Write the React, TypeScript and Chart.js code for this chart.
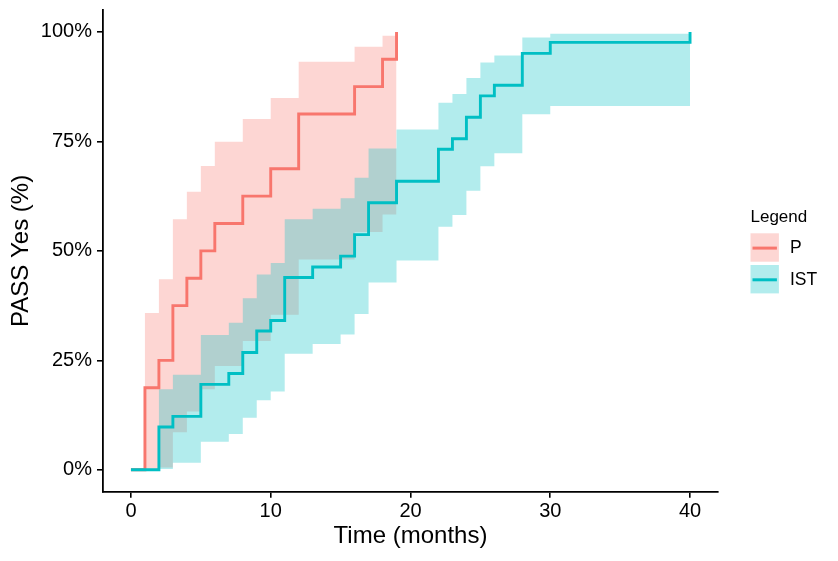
import React, { useEffect, useRef } from 'react';
import { Chart, registerables } from 'chart.js';

Chart.register(...registerables);

// ---- Data ----
const groups = ['P', 'IST'];
const legendTitle = 'Legend';

const pTimes = [0, 1, 2, 3, 4, 5, 6, 8, 10, 12, 16, 18, 19];
const pValues = [0, 18.75, 25, 37.5, 43.75, 50, 56.25, 62.5, 68.75, 81.25, 87.5, 93.75, 100];
const pUpper = [0, 35.8, 43.5, 57.2, 63.5, 69.4, 74.9, 80.1, 84.9, 93.2, 96.6, 99.1, null];
const pLower = [0, 0, 0.5, 8.6, 13.3, 18.4, 23.7, 29.4, 35.4, 48.0, 54.3, 58.3, null];

const istTimes = [0, 2, 3, 5, 7, 8, 9, 10, 11, 13, 15, 16, 17, 19, 22, 23, 24, 25, 26, 28, 30, 40];
const istValues = [0, 9.76, 12.2, 19.5, 22.0, 26.8, 31.7, 34.1, 43.9, 46.3, 48.8, 53.7, 61.0, 65.9, 73.2, 75.6, 80.5, 85.4, 87.8, 95.1, 97.6, 100];
const istUpper = [0, 18.4, 21.7, 30.8, 33.6, 39.2, 44.6, 47.2, 57.2, 59.6, 62.0, 66.7, 73.4, 77.7, 83.8, 85.8, 89.5, 93.0, 94.6, 98.7, 99.6, null];
const istLower = [0, 0.2, 1.6, 6.4, 8.2, 11.9, 15.9, 17.9, 26.5, 28.7, 30.9, 35.6, 42.8, 47.8, 55.5, 58.2, 63.7, 69.3, 72.3, 81.2, 83.1, null];

const xTicks = [0, 10, 20, 30, 40];
const xTickLabels = ['0', '10', '20', '30', '40'];
const yTicks = [0, 25, 50, 75, 100];
const yTickLabels = ['0%', '25%', '50%', '75%', '100%'];

const xTitle = 'Time (months)';
const yTitle = 'PASS Yes (%)';

// ---- Styles ----
const FONT = "'Liberation Sans', Arial, Helvetica, sans-serif";
const lineColors = ['#F8766D', '#00BFC4'];
const fillColors = ['rgba(248,118,109,0.3)', 'rgba(0,191,196,0.3)'];

const toPoints = (times: number[], vals: (number | null)[]) => {
  let last = 0;
  return times.map((t, i) => {
    const v = vals[i] == null ? last : (vals[i] as number);
    last = v;
    return { x: t, y: v };
  });
};

const legendPlugin = {
  id: 'customLegend',
  afterDraw(chart: any) {
    const ctx = chart.ctx as CanvasRenderingContext2D;
    const left = 750.5;
    const keySize = 28.4;
    const stride = 31.7;
    const top = 233.3;
    ctx.save();
    ctx.fillStyle = '#000';
    ctx.font = `17px ${FONT}`;
    ctx.textBaseline = 'alphabetic';
    ctx.textAlign = 'left';
    ctx.fillText(legendTitle, left, 221.7);
    groups.forEach((g, i) => {
      const y0 = top + i * stride;
      ctx.fillStyle = fillColors[i];
      ctx.fillRect(left, y0, keySize, keySize);
      ctx.strokeStyle = lineColors[i];
      ctx.lineWidth = 3;
      ctx.beginPath();
      ctx.moveTo(left + 2, y0 + keySize / 2 + 0.6);
      ctx.lineTo(left + keySize - 2, y0 + keySize / 2 + 0.6);
      ctx.stroke();
      ctx.fillStyle = '#000';
      ctx.font = `17.5px ${FONT}`;
      ctx.textBaseline = 'middle';
      ctx.fillText(g, 790, y0 + keySize / 2 + 1);
    });
    ctx.restore();
  },
};

export default function App() {
  const ref = useRef<HTMLCanvasElement | null>(null);

  useEffect(() => {
    if (!ref.current) return;
    const lineDs = (label: string, times: number[], vals: number[], color: string) => ({
      label,
      data: toPoints(times, vals),
      borderColor: color,
      backgroundColor: color,
      borderWidth: 2.9,
      pointRadius: 0,
      stepped: 'before' as const,
      fill: false,
    });
    const bandDs = (label: string, times: number[], vals: (number | null)[], fill: any, color: string) => ({
      label,
      data: toPoints(times, vals),
      borderColor: 'rgba(0,0,0,0)',
      backgroundColor: color,
      borderWidth: 0,
      pointRadius: 0,
      stepped: 'before' as const,
      fill,
    });

    const chart = new Chart(ref.current, {
      type: 'line',
      data: {
        datasets: [
          lineDs('IST', istTimes, istValues, lineColors[1]),
          lineDs('P', pTimes, pValues, lineColors[0]),
          bandDs('IST upper', istTimes, istUpper, '+1', fillColors[1]),
          bandDs('IST lower', istTimes, istLower, false, fillColors[1]),
          bandDs('P upper', pTimes, pUpper, '+1', fillColors[0]),
          bandDs('P lower', pTimes, pLower, false, fillColors[0]),
        ] as any,
      },
      options: {
        animation: false,
        responsive: false,
        maintainAspectRatio: false,
        layout: { padding: { top: 10, right: 120, left: 0, bottom: 0 } },
        plugins: {
          legend: { display: false },
          tooltip: { enabled: false },
        },
        scales: {
          x: {
            type: 'linear',
            min: -2,
            max: 42,
            afterBuildTicks: (s: any) => {
              s.ticks = xTicks.map((v) => ({ value: v }));
            },
            afterFit: (s: any) => {
              s.height = 69.3;
              s.paddingLeft = 0;
              s.paddingRight = 0;
            },
            ticks: {
              autoSkip: false,
              maxRotation: 0,
              padding: 1.5,
              color: '#000',
              font: { size: 20, family: FONT },
              callback: (_v: any, i: number) => xTickLabels[i],
            },
            grid: {
              display: true,
              drawOnChartArea: false,
              drawTicks: true,
              tickLength: 6,
              color: '#000',
              lineWidth: 1.6,
            },
            border: { display: true, color: '#000', width: 1.8 },
            title: {
              display: true,
              text: xTitle,
              color: '#000',
              font: { size: 24, family: FONT },
              padding: { top: 0, bottom: 10 },
            },
          },
          y: {
            type: 'linear',
            min: -5,
            max: 105,
            afterBuildTicks: (s: any) => {
              s.ticks = yTicks.map((v) => ({ value: v }));
            },
            afterFit: (s: any) => {
              s.width = 103;
              s.paddingTop = 0;
              s.paddingBottom = 0;
            },
            ticks: {
              autoSkip: false,
              padding: 5,
              color: '#000',
              font: { size: 20, family: FONT },
              callback: (_v: any, i: number) => yTickLabels[i],
            },
            grid: {
              display: true,
              drawOnChartArea: false,
              drawTicks: true,
              tickLength: 6,
              color: '#000',
              lineWidth: 1.6,
            },
            border: { display: true, color: '#000', width: 1.8 },
            title: {
              display: true,
              text: yTitle,
              color: '#000',
              font: { size: 24, family: FONT },
              padding: { top: 7, bottom: 0 },
            },
          },
        },
      } as any,
      plugins: [legendPlugin],
    });
    return () => chart.destroy();
  }, []);

  return (
    <div style={{ position: 'fixed', left: 0, top: 0, width: 838, height: 561, background: '#fff' }}>
      <canvas ref={ref} width={838} height={561} style={{ display: 'block', width: 838, height: 561 }} />
    </div>
  );
}
